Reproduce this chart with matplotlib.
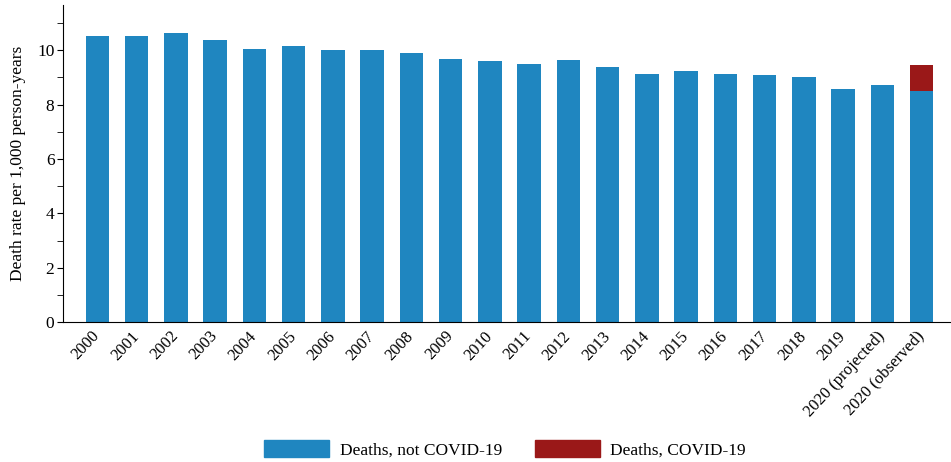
import matplotlib
matplotlib.use("Agg")
import matplotlib.pyplot as plt
from matplotlib.patches import Patch
from matplotlib.ticker import MultipleLocator

# data
years = ["2000", "2001", "2002", "2003", "2004", "2005", "2006", "2007",
         "2008", "2009", "2010", "2011", "2012", "2013", "2014", "2015",
         "2016", "2017", "2018", "2019", "2020 (projected)", "2020 (observed)"]
not_covid = [10.52, 10.52, 10.62, 10.36, 10.05, 10.13, 10.01, 9.99,
             9.90, 9.66, 9.60, 9.49, 9.62, 9.36, 9.13, 9.23,
             9.11, 9.08, 9.01, 8.58, 8.70, 8.51]
covid = [0] * 21 + [0.93]

blue = "#1f86c0"
red = "#9a1818"

plt.rcParams["font.family"] = ["Liberation Serif", "DejaVu Serif"]

fig = plt.figure(figsize=(9.51, 4.62), dpi=100)
ax = fig.add_axes([0.066, 0.302, 0.934, 0.687])

x = list(range(len(years)))
ax.bar(x, not_covid, width=0.6, color=blue)
ax.bar(x, covid, width=0.6, bottom=not_covid, color=red)

ax.set_xlim(-0.88, 21.75)
ax.set_ylim(0, 11.65)
ax.yaxis.set_major_locator(MultipleLocator(2))
ax.yaxis.set_minor_locator(MultipleLocator(1))
ax.tick_params(axis="y", which="both", direction="out", length=4, labelsize=12.5, pad=2)
ax.tick_params(axis="x", length=0, pad=8)
ax.set_xticks(x)
ax.set_xticklabels(years, rotation=47, ha="right", va="center",
                   rotation_mode="anchor", fontsize=12)
ax.set_ylabel("Death rate per 1,000 person-years", fontsize=12.5, labelpad=8)

for s in ["top", "right"]:
    ax.spines[s].set_visible(False)

handles = [Patch(color=blue, label="Deaths, not COVID-19"),
           Patch(color=red, label="Deaths, COVID-19")]
fig.legend(handles=handles, loc="center", bbox_to_anchor=(0.531, 0.027),
           ncol=2, frameon=False, fontsize=12.5, handlelength=3.75,
           handleheight=1.1, handletextpad=0.6, columnspacing=1.9)

fig.savefig("out.png", dpi=100)
